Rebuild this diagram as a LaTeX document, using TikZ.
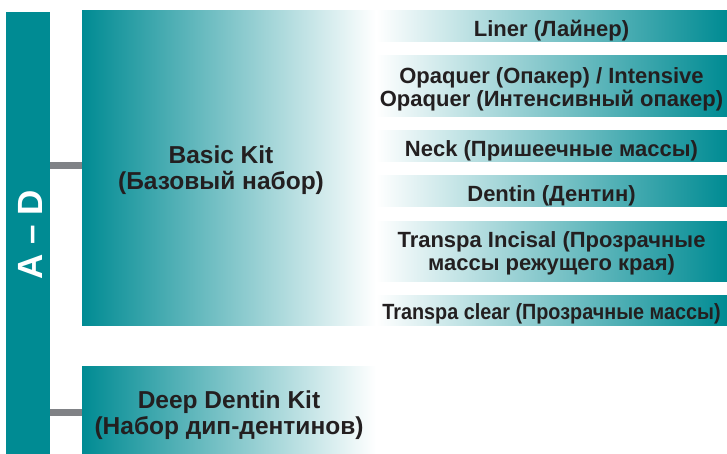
\documentclass[tikz,border=0pt]{standalone}
\usepackage{fontspec}
\usepackage{graphicx}
\setmainfont{Liberation Sans}
\definecolor{teal1}{RGB}{0,139,147}
\definecolor{conngray}{RGB}{128,130,134}
\definecolor{txt}{RGB}{35,31,32}
\tikzset{
  box/.style={draw=none, inner sep=0pt},
  lbox/.style={box, left color=teal1, right color=white},
  rbox/.style={box, left color=white, right color=teal1, minimum width=351pt},
  conn/.style={draw=conngray, line width=7pt},
  rtxt/.style={inner sep=0pt, text=txt, align=center, font=\bfseries\fontsize{22}{23.5}\selectfont},
  txtlabel/.style={inner sep=0pt, text=txt, align=center, font=\bfseries\fontsize{24.5}{25.5}\selectfont}
}
\begin{document}
\begin{tikzpicture}[x=1pt,y=-1pt]
\useasboundingbox (0,0) rectangle (727,454);
% left bar
\node[fill=teal1, minimum width=44pt, minimum height=442pt, inner sep=0pt] (bar) at (28,233) {};
\node[text=white, rotate=90, font=\bfseries\fontsize{35}{37}\selectfont, inner sep=0pt] (ad) at (30.5,235) {A – D};
% basic kit
\node[lbox, minimum width=294pt, minimum height=314pt] (basic) at (229,168) {};
\node[txtlabel] (basictxt) at (221,170) {Basic Kit\\(Базовый набор)};
% deep dentin
\node[lbox, minimum width=294pt, minimum height=88pt] (deep) at (229,410) {};
\node[txtlabel] (deeptxt) at (229,415) {Deep Dentin Kit\\(Набор дип-дентинов)};
% connectors
\coordinate (c1) at (0,165.5);
\coordinate (c2) at (0,412.5);
\draw[conn] (bar.east |- c1) -- (basic.west |- c1);
\draw[conn] (bar.east |- c2) -- (deep.west |- c2);
% right boxes
\node[rbox, minimum height=31pt] (liner) at (551.5,26.5) {};
\node[rbox, minimum height=61pt] (opaq) at (551.5,86.5) {};
\node[rbox, minimum height=31pt] (neck) at (551.5,146.5) {};
\node[rbox, minimum height=31pt] (dentin) at (551.5,191.5) {};
\node[rbox, minimum height=60pt] (incis) at (551.5,251) {};
\node[rbox, minimum height=30pt] (clear) at (551.5,310) {};
\node[rtxt] (linertxt) at ([yshift=-4.5pt]liner.center) {Liner (Лайнер)};
\node[rtxt] (opaqtxt) at ([yshift=-3pt]opaq.center) {Opaquer (Опакер) / Intensive\\Opaquer (Интенсивный опакер)};
\node[rtxt] (necktxt) at ([yshift=-4pt]neck.center) {Neck (Пришеечные массы)};
\node[rtxt] (dentintxt) at ([yshift=-4pt]dentin.center) {Dentin (Дентин)};
\node[rtxt] (incistxt) at ([yshift=-2.5pt]incis.center) {Transpa Incisal (Прозрачные\\массы режущего края)};
\node[rtxt] (cleartxt) at ([yshift=-3.5pt]clear.center) {\scalebox{0.9}[1]{Transpa clear (Прозрачные массы)}};
\end{tikzpicture}
\end{document}
